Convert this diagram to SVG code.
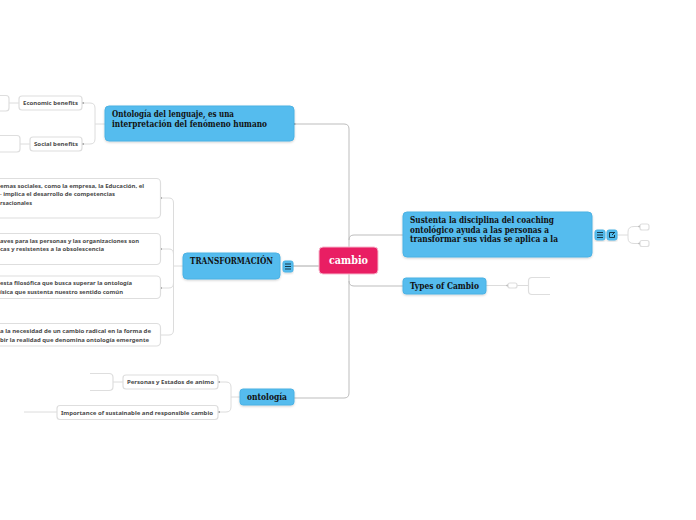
<svg xmlns="http://www.w3.org/2000/svg" width="696" height="520" viewBox="0 0 696 520">
<defs>
<filter id="sh" x="-10%" y="-20%" width="120%" height="140%"><feDropShadow dx="0" dy="1" stdDeviation="1" flood-color="#000" flood-opacity=".18"/></filter>
</defs>
<style>
.b{fill:#54bcee;stroke:#4db2e4;stroke-width:1;filter:url(#sh)}
.w{fill:#fff;stroke:#dedede;stroke-width:1.2}
.t{font-family:"DejaVu Serif","Liberation Serif",serif;font-weight:700;font-size:9px;fill:#111}
.s{font-family:"Noto Sans","Open Sans",sans-serif;font-weight:700;font-size:6px;fill:#4a4a4a}
.c{fill:none;stroke:#bdbdbd;stroke-width:1}
.l{fill:none;stroke:#dcdcdc;stroke-width:1}
.d{fill:#9a9a9a}
.i{stroke:#16384a;stroke-width:1;fill:none}
</style>
<g id="connectors">
<path class="c" d="M294 124H344Q349 124 349 129V393Q349 398 344 398H294"/>
<path class="c" d="M349 240Q349 235 354 235H403M349 281Q349 286 354 286H403"/>
<path d="M293 266H319" fill="none" stroke="#a8a8a8"/>
<path class="l" d="M105 124H95M82 103H90Q95 103 95 108V139Q95 144 90 144H82M19 103H9M30 144H20"/>
<path class="l" d="M183 266H173.500M160 198H169Q173.500 198 173.500 203V330Q173.500 335 169 335H160M160 249H169Q173.500 249 173.500 254V283Q173.500 288 169 288H160"/>
<path class="l" d="M240 397H231M218 382H226Q231 382 231 387V407Q231 412 226 412H218M123 382H113M57 412H24"/>
<path class="l" d="M617 235H628M649 226.500H634Q628 226.500 628 232V238Q628 243.500 634 243.500H649M486 285.500H507M517 285.500H528"/>
<g class="d"><circle cx="294.500" cy="124" r="1"/><circle cx="83" cy="103" r="1"/><circle cx="83" cy="144" r="1"/><circle cx="161" cy="198" r="1"/><circle cx="161" cy="249" r="1"/><circle cx="161" cy="288" r="1"/><circle cx="219" cy="382" r="1"/><circle cx="219" cy="412" r="1"/><circle cx="639.500" cy="226.500" r="1"/><circle cx="639.500" cy="243.500" r="1"/><circle cx="507.500" cy="285.500" r="1"/></g>
</g>
<g id="n-cambio"><rect x="319" y="247" width="59" height="27" rx="4" fill="#e91e63" stroke="#f7b7cd"/><text x="348.500" y="264" text-anchor="middle" font-family="DejaVu Serif,serif" font-weight="700" font-size="10.500" fill="#fff" textLength="39" lengthAdjust="spacingAndGlyphs">cambio</text></g>
<g id="n-ontologia-lenguaje"><rect class="b" x="105" y="106" width="189" height="35" rx="4"/>
<text class="t" x="112" y="116.500" textLength="122" lengthAdjust="spacingAndGlyphs" style="font-size:8.400px">Ontología del lenguaje, es una</text>
<text class="t" x="112" y="126.500" textLength="155" lengthAdjust="spacingAndGlyphs" style="font-size:8.400px">interpretación del fenómeno humano</text></g>
<g id="n-economic"><rect class="w" x="19" y="96" width="63" height="14" rx="3"/><text class="s" x="23" y="105" textLength="55" lengthAdjust="spacingAndGlyphs">Economic benefits</text></g>
<g id="n-economic-child"><path class="w" d="M-3 95.500H6Q9 95.500 9 98.500V108Q9 111 6 111H-3"/></g>
<g id="n-social"><rect class="w" x="30" y="137" width="52" height="14" rx="3"/><text class="s" x="34" y="146" textLength="44" lengthAdjust="spacingAndGlyphs">Social benefits</text></g>
<g id="n-social-child"><path class="w" d="M-3 135.500H17Q20 135.500 20 138.500V149Q20 152 17 152H-3"/></g>
<g id="n-transformacion"><rect class="b" x="183" y="253" width="97" height="26" rx="4"/><text class="t" x="190" y="264" textLength="83" lengthAdjust="spacingAndGlyphs">TRANSFORMACIÓN</text></g>
<g id="icon-transformacion"><rect class="b" x="283" y="261" width="10" height="11" rx="2"/><path class="i" d="M285 264H291M285 266.500H291M285 269H291"/></g>
<g id="n-t1"><rect class="w" x="-6" y="178.500" width="166.500" height="39.500" rx="4"/>
<text class="s" x="0" y="187.500" textLength="144" lengthAdjust="spacingAndGlyphs">emas sociales, como la empresa, la Educación, el</text>
<text class="s" x="0" y="195.800" textLength="115" lengthAdjust="spacingAndGlyphs">· implica el desarrollo de competencias</text>
<text class="s" x="0" y="205" textLength="32" lengthAdjust="spacingAndGlyphs">rsacionales</text></g>
<g id="n-t2"><rect class="w" x="-6" y="233.500" width="166.500" height="31" rx="4"/>
<text class="s" x="0" y="243" textLength="139" lengthAdjust="spacingAndGlyphs">aves para las personas y las organizaciones son</text>
<text class="s" x="0" y="251" textLength="104" lengthAdjust="spacingAndGlyphs">cas y resistentes a la obsolescencia</text></g>
<g id="n-t3"><rect class="w" x="-6" y="276" width="166.500" height="22.500" rx="4"/>
<text class="s" x="0" y="285" textLength="132" lengthAdjust="spacingAndGlyphs">esta filosófica que busca superar la ontología</text>
<text class="s" x="0" y="294" textLength="123" lengthAdjust="spacingAndGlyphs">ísica que sustenta nuestro sentido común</text></g>
<g id="n-t4"><rect class="w" x="-6" y="323.500" width="166.500" height="22.500" rx="4"/>
<text class="s" x="0" y="333" textLength="151" lengthAdjust="spacingAndGlyphs">a la necesidad de un cambio radical en la forma de</text>
<text class="s" x="0" y="341.500" textLength="149" lengthAdjust="spacingAndGlyphs">bir la realidad que denomina ontología emergente</text></g>
<g id="n-ontologia"><rect class="b" x="240" y="389" width="54" height="16" rx="3"/><text class="t" x="267" y="400" text-anchor="middle" textLength="40" lengthAdjust="spacingAndGlyphs">ontología</text></g>
<g id="n-personas"><rect class="w" x="123" y="375" width="95" height="14" rx="3"/><text class="s" x="127" y="384" textLength="87" lengthAdjust="spacingAndGlyphs">Personas y Estados de animo</text></g>
<g id="n-personas-child"><path class="w" d="M90 373.500H109Q113 373.500 113 377.500V386.500Q113 390.500 109 390.500H90"/></g>
<g id="n-importance"><rect class="w" x="57" y="405.500" width="161" height="14" rx="3"/><text class="s" x="61" y="414.500" textLength="152" lengthAdjust="spacingAndGlyphs">Importance of sustainable and responsible cambio</text></g>
<g id="n-sustenta"><rect class="b" x="403" y="212" width="189" height="45" rx="4"/>
<text class="t" x="410" y="223" textLength="144" lengthAdjust="spacingAndGlyphs">Sustenta la disciplina del coaching</text>
<text class="t" x="410" y="232.500" textLength="139" lengthAdjust="spacingAndGlyphs">ontológico ayuda a las personas a</text>
<text class="t" x="410" y="242" textLength="148" lengthAdjust="spacingAndGlyphs">transformar sus vidas se aplica a la</text></g>
<g id="icon-sustenta-notes"><rect class="b" x="595" y="230" width="10" height="10" rx="2"/><path class="i" d="M597 232.500H603M597 235H603M597 237.500H603"/></g>
<g id="icon-sustenta-link"><rect class="b" x="607" y="230" width="10" height="10" rx="2"/><path class="i" d="M614 232.500H609.500V237.500H614.500V235M612 235L615 232"/></g>
<g id="n-s1"><rect class="w" x="640" y="224" width="9" height="6" rx="2"/></g>
<g id="n-s2"><rect class="w" x="640" y="240.500" width="9" height="6" rx="2"/></g>
<g id="n-types"><rect class="b" x="403" y="278" width="83" height="16" rx="3"/><text class="t" x="410" y="289" textLength="69" lengthAdjust="spacingAndGlyphs">Types of Cambio</text></g>
<g id="n-types-child"><rect class="w" x="508" y="283" width="9" height="5" rx="2"/></g>
<g id="n-types-grandchild"><path class="w" d="M550 277.500H532Q528.500 277.500 528.500 281V291Q528.500 294.500 532 294.500H550"/></g>
</svg>
